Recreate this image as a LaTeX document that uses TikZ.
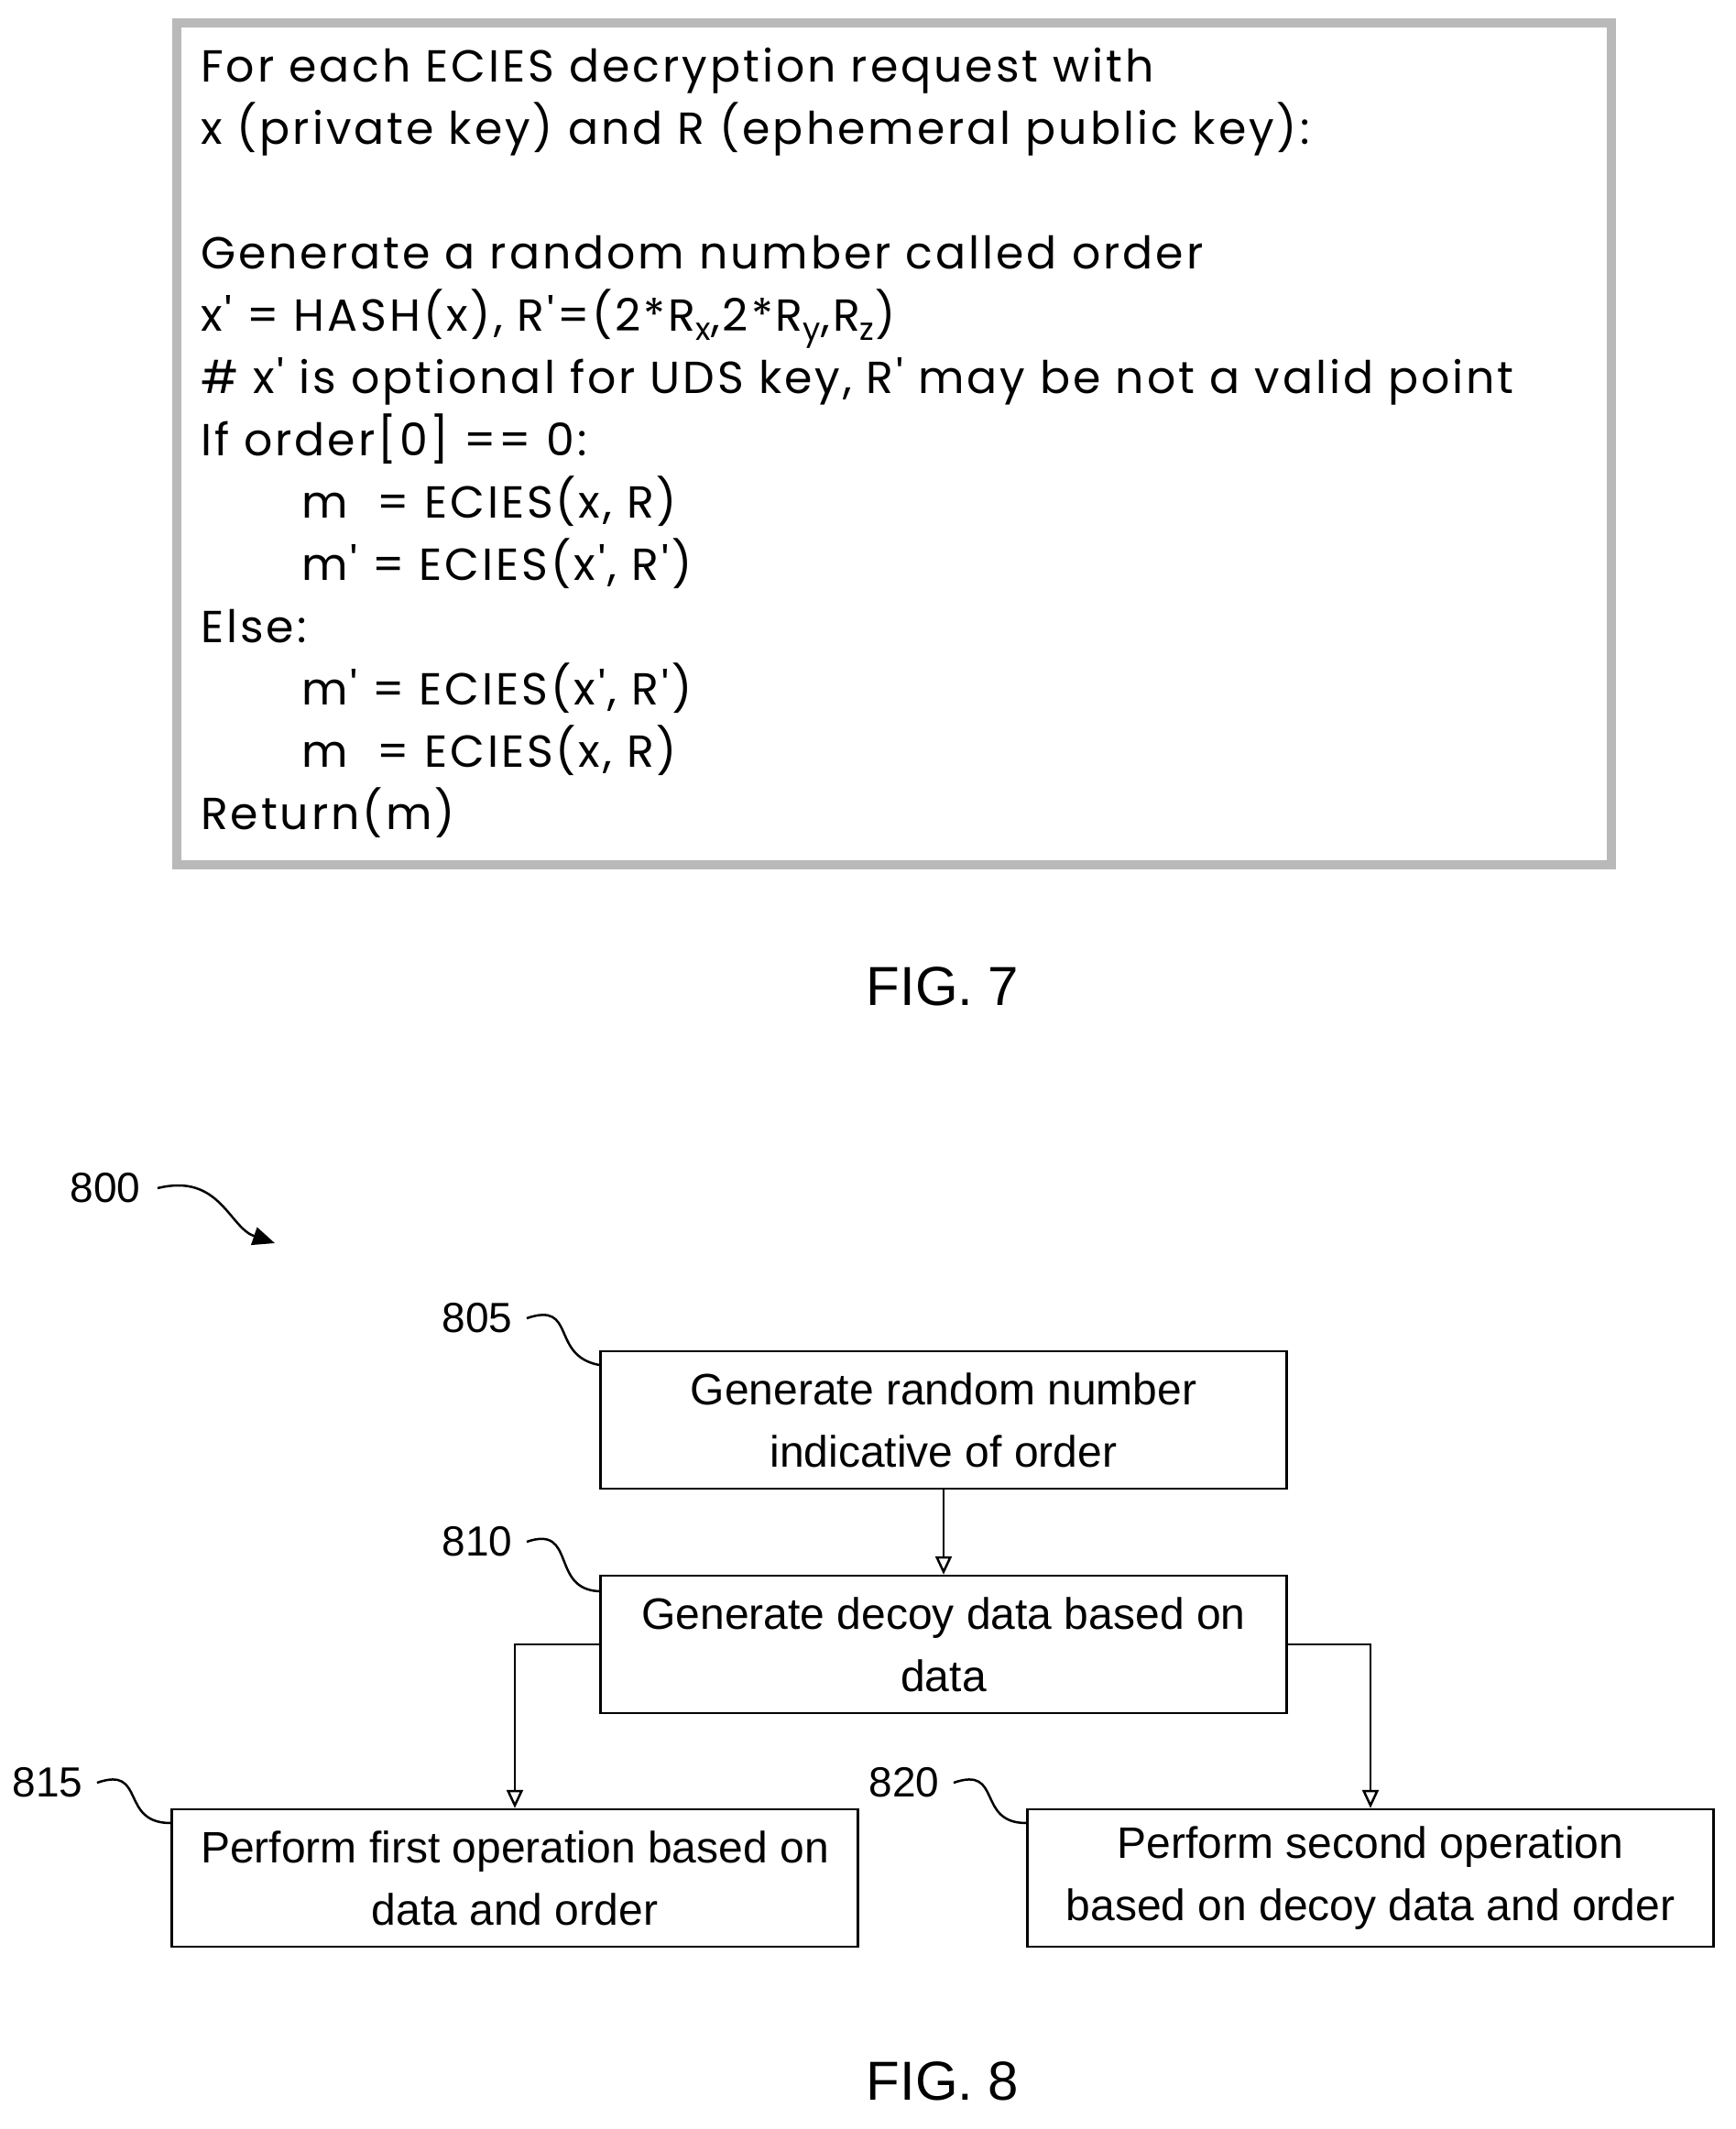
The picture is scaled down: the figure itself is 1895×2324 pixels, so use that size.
\documentclass[tikz,border=0pt]{standalone}
\usepackage{fontspec}
\setmainfont{Liberation Sans}
\newfontfamily\codefont[LetterSpace=6]{Poppins}
\usetikzlibrary{arrows.meta}
\begin{document}
\begin{tikzpicture}[x=1pt,y=-1pt,
  box/.style={draw,line width=2.5pt,minimum width=749pt,minimum height=150pt,align=center,font=\fontsize{48}{68}\selectfont,inner sep=0pt},
  lbl/.style={font=\fontsize{46}{50}\selectfont},
  arr/.style={line width=2.5pt,-{Triangle[open,length=20pt,width=18pt]}},
  sq/.style={line width=2.5pt},
  code/.style={font=\codefont\fontsize{49}{68}\selectfont,align=left,anchor=north west,inner sep=0pt}]
\useasboundingbox (0,0) rectangle (1895,2324);
\fill[white] (0,0) rectangle (1895,2324);
\draw[line width=10pt,gray!55] (193,25) rectangle (1759,944);
\node[code] (code) at (219,52) {For each ECIES decryption request with\\
x (private key) and R (ephemeral public key):\\
\mbox{}\\
Generate a random number called order\\
x' = HASH(x), R'=(2*R\textsubscript{x},2*R\textsubscript{y},R\textsubscript{z})\\
\# x' is optional for UDS key, R' may be not a valid point\\
If order[0] == 0:\\
\hspace*{110pt}m\ \ = ECIES(x, R)\\
\hspace*{110pt}m' = ECIES(x', R')\\
Else:\\
\hspace*{110pt}m' = ECIES(x', R')\\
\hspace*{110pt}m\ \ = ECIES(x, R)\\
Return(m)};
\node[font=\fontsize{60}{60}\selectfont] (fig7) at (1029,1077) {FIG. 7};
\node[font=\fontsize{60}{60}\selectfont] (fig8) at (1029,2272) {FIG. 8};

\node[lbl] (l800) at (115,1297) {800};
\coordinate (a800) at (300,1357);
\draw[sq,-{Triangle[length=24pt,width=20pt]}] ([xshift=15pt]l800.east) .. controls (240,1280) and (250,1340) .. (a800);

\node[box] (b805) at (1030,1550) {Generate random number\\indicative of order};
\node[box] (b810) at (1030,1795) {Generate decoy data based on\\data};
\node[box] (b815) at (562,2050) {Perform first operation based on\\data and order};
\node[box] (b820) at (1496,2050) {Perform second operation\\based on decoy data and order};

\node[lbl] (l805) at (521,1439) {805};
\node[lbl] (l810) at (521,1683) {810};
\node[lbl] (l815) at (52,1946) {815};
\node[lbl] (l820) at (987,1946) {820};
\draw[sq] ([xshift=12pt]l805.east) .. controls (630,1420) and (600,1480) .. (b805.north west |- 0,1490);
\draw[sq] ([xshift=12pt]l810.east) .. controls (630,1664) and (600,1735) .. (b810.north west |- 0,1737);
\draw[sq] ([xshift=12pt]l815.east) .. controls (160,1927) and (130,1990) .. (b815.north west |- 0,1990);
\draw[sq] ([xshift=12pt]l820.east) .. controls (1095,1927) and (1065,1990) .. (b820.north west |- 0,1990);

\draw[arr] (b805) -- (b810);
\draw[arr] (b810.west) -| (b815.north);
\draw[arr] (b810.east) -| (b820.north);
\end{tikzpicture}
\end{document}
